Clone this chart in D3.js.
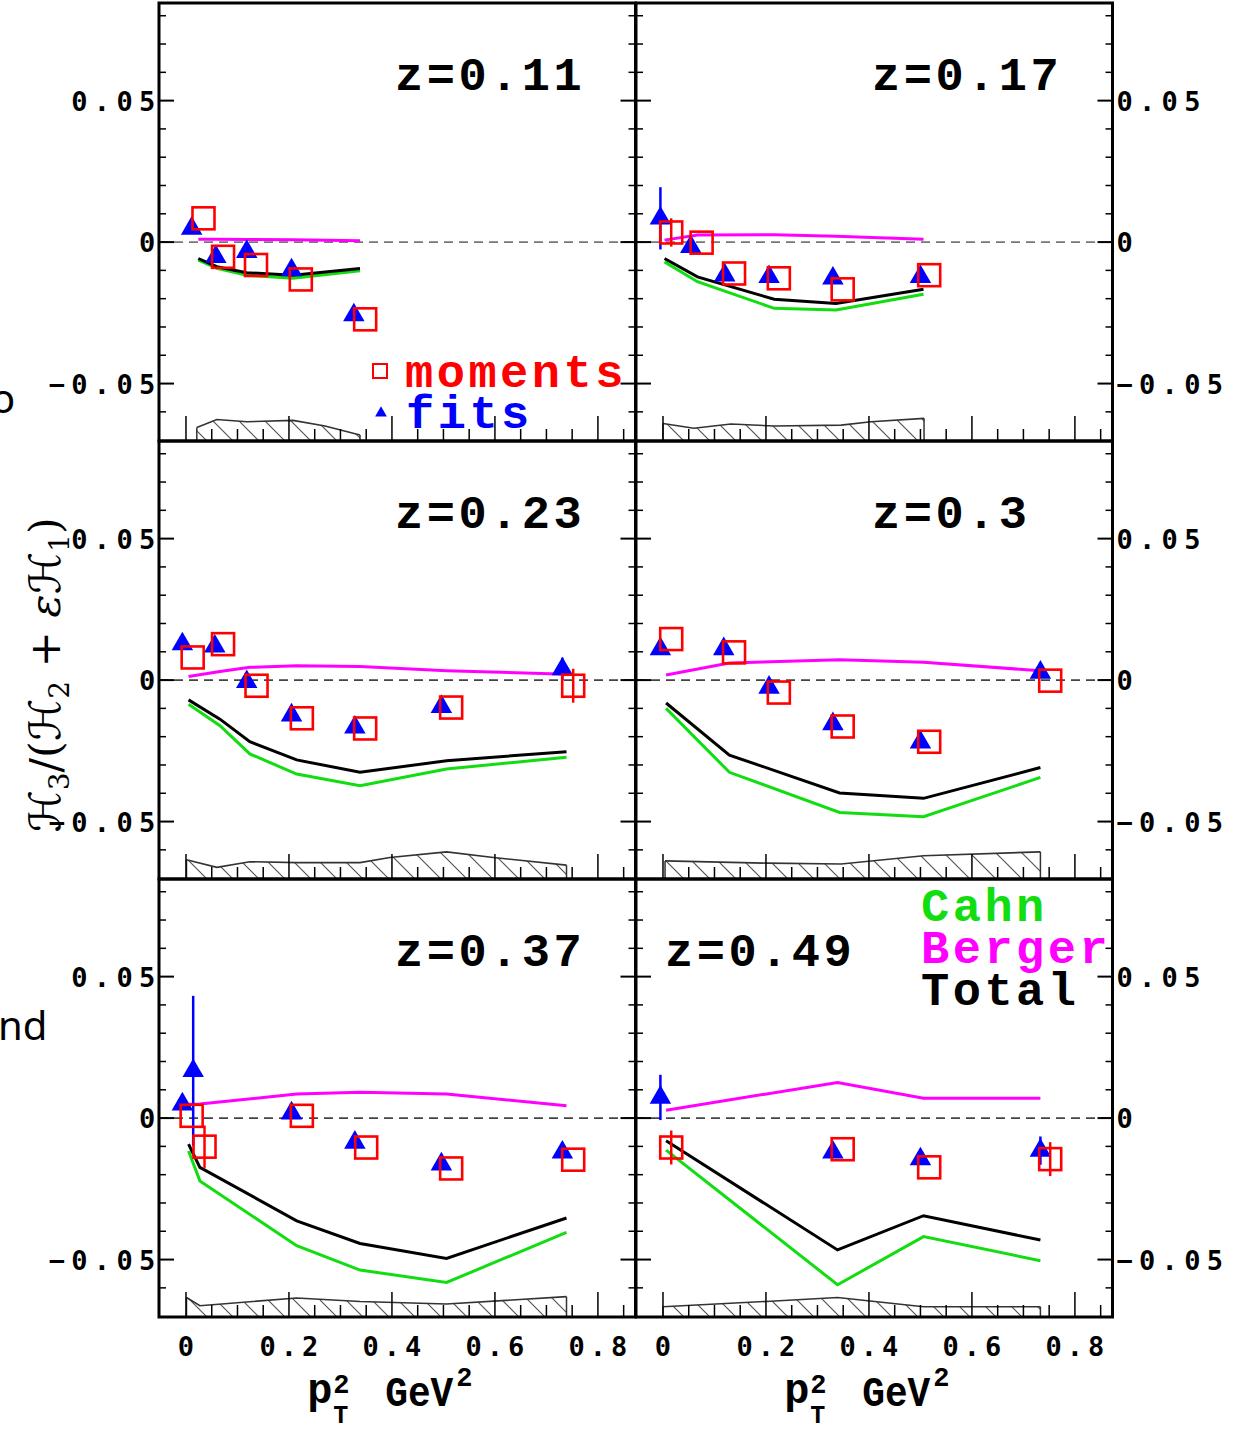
<!DOCTYPE html>
<html>
<head>
<meta charset="utf-8">
<script src="https://cdn.jsdelivr.net/npm/d3@7"></script>
<style>
  html, body { margin: 0; padding: 0; background: #ffffff; overflow: hidden; }
  svg { display: block; }
</style>
</head>
<body>
<script>
// ---------------- DATA ----------------
const zLabels = ["z=0.11", "z=0.17", "z=0.23", "z=0.3", "z=0.37", "z=0.49"];
const yTickValues = [0.05, 0, -0.05];
const yTickLabels = ["0.05", "0", "\u22120.05"];
const xTickValues = [0, 0.2, 0.4, 0.6, 0.8];
const xTickLabels = ["0", "0.2", "0.4", "0.6", "0.8"];
const legendData = ["moments", "fits"];
const modelNames = ["Cahn", "Berger", "Total"];

// z = 0.11
const fitX_a = [0.011, 0.058, 0.118, 0.205, 0.326];
const fitY_a = [0.0048, -0.0052, -0.0034, -0.0099, -0.0258];
const fitE_a = [0, 0, 0, 0, 0];
const momX_a = [0.034, 0.072, 0.136, 0.223, 0.348];
const momY_a = [0.0084, -0.0052, -0.0081, -0.0132, -0.0273];
const momE_a = [0, 0, 0, 0, 0];
const modX_a = [0.024, 0.06, 0.118, 0.208, 0.338];
const cahn_a = [-0.0064, -0.0093, -0.0117, -0.0128, -0.0101];
const berger_a = [0.001, 0.001, 0.0009, 0.0008, 0.0005];
const total_a = [-0.0058, -0.0087, -0.0108, -0.0117, -0.0093];
const sysX_a = [0.021, 0.06, 0.118, 0.208, 0.27, 0.338];
const sys_a = [-0.0655, -0.0627, -0.0635, -0.063, -0.065, -0.0682];

// z = 0.17
const fitX_b = [-0.005, 0.054, 0.120, 0.206, 0.330, 0.500];
const fitY_b = [0.0084, -0.0017, -0.0117, -0.0123, -0.0128, -0.0123];
const fitE_b = [0.011, 0, 0, 0, 0, 0];
const momX_b = [0.016, 0.075, 0.138, 0.225, 0.349, 0.517];
const momY_b = [0.0034, -0.0002, -0.0111, -0.0128, -0.0167, -0.0117];
const momE_b = [0.005, 0, 0, 0, 0, 0];
const modX_b = [0.003, 0.067, 0.216, 0.336, 0.506];
const cahn_b = [-0.007, -0.014, -0.0234, -0.024, -0.0184];
const berger_b = [0.0007, 0.0025, 0.0026, 0.0021, 0.001];
const total_b = [-0.0058, -0.0123, -0.0202, -0.0217, -0.0167];
const sysX_b = [0.0, 0.06, 0.132, 0.216, 0.346, 0.404, 0.507];
const sys_b = [-0.0641, -0.0658, -0.0643, -0.065, -0.0647, -0.0635, -0.0623];

// z = 0.23
const fitX_c = [-0.007, 0.056, 0.118, 0.205, 0.328, 0.496, 0.731];
const fitY_c = [0.0127, 0.0119, -0.0006, -0.0124, -0.0167, -0.0094, 0.0039];
const fitE_c = [0, 0, 0, 0, 0, 0, 0.004];
const momX_c = [0.013, 0.072, 0.137, 0.225, 0.348, 0.515, 0.752];
const momY_c = [0.008, 0.0127, -0.002, -0.0135, -0.0171, -0.0097, -0.002];
const momE_c = [0, 0, 0, 0, 0, 0, 0.006];
const modX_c = [0.005, 0.066, 0.124, 0.215, 0.338, 0.506, 0.739];
const cahn_c = [-0.0085, -0.0161, -0.0261, -0.0332, -0.0373, -0.0314, -0.0273];
const berger_c = [0.0013, 0.003, 0.0045, 0.0051, 0.0048, 0.0033, 0.0021];
const total_c = [-0.007, -0.0138, -0.0218, -0.0282, -0.0326, -0.0285, -0.0253];
const sysX_c = [0.001, 0.06, 0.124, 0.215, 0.338, 0.396, 0.506, 0.597, 0.739];
const sys_c = [-0.0635, -0.0662, -0.0642, -0.0645, -0.0645, -0.0627, -0.0607, -0.0627, -0.0654];

// z = 0.3
const fitX_d = [-0.005, 0.118, 0.206, 0.330, 0.500, 0.733];
const fitY_d = [0.011, 0.011, -0.0026, -0.0155, -0.022, 0.0027];
const fitE_d = [0, 0, 0, 0, 0, 0];
const momX_d = [0.016, 0.138, 0.225, 0.349, 0.517, 0.752];
const momY_d = [0.0145, 0.0098, -0.0044, -0.0164, -0.0218, -0.0002];
const momE_d = [0, 0, 0, 0, 0, 0];
const modX_d = [0.006, 0.129, 0.343, 0.506, 0.733];
const cahn_d = [-0.01, -0.0326, -0.0468, -0.0483, -0.0344];
const berger_d = [0.0018, 0.006, 0.0072, 0.0063, 0.0033];
const total_d = [-0.0081, -0.0265, -0.0399, -0.0418, -0.0309];
const sysX_d = [0.004, 0.203, 0.346, 0.506, 0.733];
const sys_d = [-0.0639, -0.0647, -0.065, -0.0621, -0.0607];

// z = 0.37
const fitX_e = [-0.007, 0.014, 0.205, 0.328, 0.496, 0.731];
const fitY_e = [0.0049, 0.0167, 0.0017, -0.0086, -0.0163, -0.0121];
const fitE_e = [0, 0.0265, 0, 0, 0, 0];
const momX_e = [0.011, 0.036, 0.225, 0.350, 0.515, 0.752];
const momY_e = [0.0008, -0.0101, 0.0008, -0.0104, -0.0178, -0.0147];
const momE_e = [0, 0.0075, 0, 0, 0, 0];
const modX_e = [0.005, 0.027, 0.215, 0.338, 0.506, 0.739];
const cahn_e = [-0.0116, -0.0222, -0.0451, -0.0537, -0.0581, -0.0404];
const berger_e = [0.0049, 0.005, 0.0085, 0.0091, 0.0085, 0.0044];
const total_e = [-0.0092, -0.0174, -0.0363, -0.0443, -0.0496, -0.0353];
const sysX_e = [0.001, 0.027, 0.215, 0.338, 0.506, 0.739];
const sys_e = [-0.0634, -0.0663, -0.0636, -0.0648, -0.0657, -0.0631];

// z = 0.49
const fitX_f = [-0.005, 0.330, 0.500, 0.733];
const fitY_f = [0.0073, -0.0121, -0.0145, -0.0115];
const fitE_f = [0.008, 0, 0, 0.005];
const momX_f = [0.016, 0.349, 0.517, 0.752];
const momY_f = [-0.0104, -0.011, -0.0174, -0.0145];
const momE_f = [0.006, 0, 0, 0.006];
const modX_f = [0.006, 0.339, 0.506, 0.733];
const cahn_f = [-0.0113, -0.0589, -0.0419, -0.0504];
const berger_f = [0.0028, 0.0126, 0.007, 0.007];
const total_f = [-0.008, -0.0466, -0.0345, -0.0431];
const sysX_f = [0.0, 0.2, 0.339, 0.506, 0.733];
const sys_f = [-0.0667, -0.0648, -0.0634, -0.0667, -0.0667];

// ---------------- BUILD ----------------
const panels = [
  {z: zLabels[0], fitX: fitX_a, fitY: fitY_a, fitE: fitE_a, momX: momX_a, momY: momY_a, momE: momE_a, modX: modX_a, cahn: cahn_a, berger: berger_a, total: total_a, sysX: sysX_a, sys: sys_a},
  {z: zLabels[1], fitX: fitX_b, fitY: fitY_b, fitE: fitE_b, momX: momX_b, momY: momY_b, momE: momE_b, modX: modX_b, cahn: cahn_b, berger: berger_b, total: total_b, sysX: sysX_b, sys: sys_b},
  {z: zLabels[2], fitX: fitX_c, fitY: fitY_c, fitE: fitE_c, momX: momX_c, momY: momY_c, momE: momE_c, modX: modX_c, cahn: cahn_c, berger: berger_c, total: total_c, sysX: sysX_c, sys: sys_c},
  {z: zLabels[3], fitX: fitX_d, fitY: fitY_d, fitE: fitE_d, momX: momX_d, momY: momY_d, momE: momE_d, modX: modX_d, cahn: cahn_d, berger: berger_d, total: total_d, sysX: sysX_d, sys: sys_d},
  {z: zLabels[4], fitX: fitX_e, fitY: fitY_e, fitE: fitE_e, momX: momX_e, momY: momY_e, momE: momE_e, modX: modX_e, cahn: cahn_e, berger: berger_e, total: total_e, sysX: sysX_e, sys: sys_e},
  {z: zLabels[5], fitX: fitX_f, fitY: fitY_f, fitE: fitE_f, momX: momX_f, momY: momY_f, momE: momE_f, modX: modX_f, cahn: cahn_f, berger: berger_f, total: total_f, sysX: sysX_f, sys: sys_f}
];

const W = 1236, H = 1432;
const colX = [159, 636];
const rowY = [3, 441, 879];
const pw = 476.5, ph = 438;

const x = d3.scaleLinear().domain([-0.0524, 0.873]).range([0, pw]);
const y = d3.scaleLinear().domain([-0.0703, 0.0845]).range([ph, 0]);

const RED = "#ff0000", BLUE = "#0000ff", GREEN = "#11dd11", MAG = "#ff00ff";
const MONO = "'Liberation Mono', 'Courier New', monospace";
const TICKF = "'DejaVu Sans Mono', monospace";

const svg = d3.select("body").append("svg").attr("width", W).attr("height", H);

// hatch pattern
const defs = svg.append("defs");
const pat = defs.append("pattern").attr("id", "hatch")
  .attr("patternUnits", "userSpaceOnUse").attr("width", 26).attr("height", 26);
pat.append("path").attr("d", "M0,0 L26,26 M-13,13 L13,39 M13,-13 L39,13")
  .attr("stroke", "#555").attr("stroke-width", 1.2).attr("fill", "none");

const lineGen = d3.line().x(d => x(d[0])).y(d => y(d[1]));
const bigText = (sel) => sel.style("font-family", MONO).style("font-weight", "bold")
  .style("font-size", "47px").style("letter-spacing", "3.5px");

panels.forEach((p, i) => {
  const col = i % 2, row = Math.floor(i / 2);
  const g = svg.append("g").attr("transform", `translate(${colX[col]},${rowY[row]})`);

  // zero dashed line
  g.append("line").attr("x1", 0).attr("x2", pw).attr("y1", y(0)).attr("y2", y(0))
    .attr("stroke", row === 0 ? "#777" : "#444").attr("stroke-width", 1.6).attr("stroke-dasharray", "9,6");

  // systematic band
  const band = p.sysX.map((v, k) => [v, p.sys[k]]);
  const area = d3.area().x(d => x(d[0])).y0(y(-0.0703)).y1(d => y(d[1]));
  g.append("path").attr("d", area(band)).attr("fill", "url(#hatch)").attr("stroke", "none");
  g.append("path").attr("d", lineGen(band)).attr("fill", "none").attr("stroke", "#333").attr("stroke-width", 1.6);
  g.append("line").attr("x1", x(p.sysX[0])).attr("x2", x(p.sysX[0]))
    .attr("y1", y(p.sys[0])).attr("y2", ph).attr("stroke", "#333").attr("stroke-width", 1.5);
  const last = p.sysX.length - 1;
  g.append("line").attr("x1", x(p.sysX[last])).attr("x2", x(p.sysX[last]))
    .attr("y1", y(p.sys[last])).attr("y2", ph).attr("stroke", "#333").attr("stroke-width", 1.5);

  // ticks: y
  d3.range(-6, 9).forEach(k => {
    const v = k / 100, major = (k % 5 === 0);
    const L = major ? 15 : 7;
    g.append("line").attr("x1", 0).attr("x2", L).attr("y1", y(v)).attr("y2", y(v))
      .attr("stroke", "#000").attr("stroke-width", major ? 2 : 1.5);
    g.append("line").attr("x1", pw).attr("x2", pw - L).attr("y1", y(v)).attr("y2", y(v))
      .attr("stroke", "#000").attr("stroke-width", major ? 2 : 1.5);
  });
  // ticks: x
  d3.range(0, 18).forEach(k => {
    const v = k * 0.05, major = (k % 4 === 0);
    const L = major ? 25 : 12;
    g.append("line").attr("x1", x(v)).attr("x2", x(v)).attr("y1", ph).attr("y2", ph - L)
      .attr("stroke", "#000").attr("stroke-width", 1.5);
  });

  // model curves
  const mk = arr => p.modX.map((v, k) => [v, arr[k]]);
  g.append("path").attr("d", lineGen(mk(p.cahn))).attr("fill", "none").attr("stroke", GREEN).attr("stroke-width", 3);
  g.append("path").attr("d", lineGen(mk(p.berger))).attr("fill", "none").attr("stroke", MAG).attr("stroke-width", 3);
  g.append("path").attr("d", lineGen(mk(p.total))).attr("fill", "none").attr("stroke", "#000").attr("stroke-width", 3);

  // fits: error bars + triangles
  p.fitX.forEach((v, k) => {
    if (p.fitE[k] > 0) {
      g.append("line").attr("x1", x(v)).attr("x2", x(v))
        .attr("y1", y(p.fitY[k] - p.fitE[k])).attr("y2", y(p.fitY[k] + p.fitE[k]))
        .attr("stroke", BLUE).attr("stroke-width", 2.5);
    }
  });
  g.selectAll(".tri").data(p.fitX).enter().append("path")
    .attr("d", d3.symbol().type(d3.symbolTriangle).size(200))
    .attr("transform", (v, k) => `translate(${x(v)},${y(p.fitY[k])})`)
    .attr("fill", BLUE);

  // moments: error bars + squares
  p.momX.forEach((v, k) => {
    if (p.momE[k] > 0) {
      g.append("line").attr("x1", x(v)).attr("x2", x(v))
        .attr("y1", y(p.momY[k] - p.momE[k])).attr("y2", y(p.momY[k] + p.momE[k]))
        .attr("stroke", RED).attr("stroke-width", 2.5);
    }
  });
  g.selectAll(".sq").data(p.momX).enter().append("rect")
    .attr("x", v => x(v) - 11).attr("y", (v, k) => y(p.momY[k]) - 11)
    .attr("width", 22).attr("height", 22)
    .attr("fill", "none").attr("stroke", RED).attr("stroke-width", 2.6);

  // frame
  g.append("rect").attr("x", 0).attr("y", 0).attr("width", pw).attr("height", ph)
    .attr("fill", "none").attr("stroke", "#000").attr("stroke-width", 3);

  // y tick labels
  yTickValues.forEach((v, k) => {
    const t = g.append("text").attr("y", y(v) + 10)
      .style("font-family", TICKF).style("font-weight", "bold").style("font-size", "27px")
      .style("letter-spacing", "6.3px").text(yTickLabels[k]);
    if (col === 0) t.attr("x", 2.5).attr("text-anchor", "end");
    else t.attr("x", pw + 4).attr("text-anchor", "start");
  });

  // x tick labels (bottom row)
  if (row === 2) {
    xTickValues.forEach((v, k) => {
      g.append("text").attr("x", x(v) + 2.5).attr("y", ph + 39).attr("text-anchor", "middle")
        .style("font-family", TICKF).style("font-weight", "bold").style("font-size", "27px")
        .style("letter-spacing", "5px").text(xTickLabels[k]);
    });
    // axis title
    const cx = pw / 2;
    const tf = (sel, s) => sel.style("font-family", MONO).style("font-weight", "bold").style("font-size", s);
    tf(g.append("text").attr("x", cx - 90).attr("y", ph + 86).text("p"), "42px");
    tf(g.append("text").attr("x", cx - 64).attr("y", ph + 106).text("T"), "25px");
    tf(g.append("text").attr("x", cx - 64).attr("y", ph + 76).text("2"), "27px");
    tf(g.append("text").attr("x", cx - 12).attr("y", ph + 89).attr("textLength", 68)
      .attr("lengthAdjust", "spacingAndGlyphs").text("GeV"), "42px");
    tf(g.append("text").attr("x", cx + 59).attr("y", ph + 69).text("2"), "27px");
  }

  // panel label
  bigText(g.append("text").attr("x", i === 5 ? 29 : 236).attr("y", 87).attr("fill", "#000").text(p.z));
});

// legend: moments / fits (top-left panel)
const lg = svg.append("g").attr("transform", `translate(${colX[0]},${rowY[0]})`);
lg.append("rect").attr("x", 214).attr("y", 361).attr("width", 14).attr("height", 14)
  .attr("fill", "none").attr("stroke", RED).attr("stroke-width", 2);
lg.append("path").attr("d", d3.symbol().type(d3.symbolTriangle).size(60))
  .attr("transform", "translate(222,410)").attr("fill", BLUE);
bigText(lg.append("text").attr("x", 246).attr("y", 384).attr("fill", RED).text(legendData[0]));
bigText(lg.append("text").attr("x", 247).attr("y", 425).attr("fill", BLUE).text(legendData[1]));

// legend: models (bottom-right panel)
const mg = svg.append("g").attr("transform", `translate(${colX[1]},${rowY[2]})`);
const mcol = [GREEN, MAG, "#000"];
modelNames.forEach((n, k) => {
  bigText(mg.append("text").attr("x", 285).attr("y", 42 + k * 42).attr("fill", mcol[k]).text(n));
});

// y-axis title
const yt = svg.append("text").attr("transform", "translate(60,675) rotate(-90)")
  .attr("text-anchor", "middle")
  .style("font-family", "'DejaVu Serif', 'DejaVu Sans', serif").style("font-size", "43px");
const parts = [["\u210B", 0], ["3", 1], ["/(", 0], ["\u210B", 0], ["2", 1], [" + ", 0], ["\u03B5", 2], ["\u210B", 0], ["1", 1], [")", 0]];
let prevSub = false;
parts.forEach(([t, kind]) => {
  const ts = yt.append("tspan").text(t);
  if (kind === 1) { ts.attr("dy", 9).style("font-size", "28px"); prevSub = true; }
  else {
    if (prevSub) ts.attr("dy", -9);
    prevSub = false;
    if (kind === 2) ts.style("font-style", "italic");
  }
});

// stray text fragments at the left edge
svg.append("text").attr("x", -9).attr("y", 413).style("font-family", "'Noto Sans', sans-serif")
  .style("font-size", "40px").text("o");
svg.append("text").attr("x", -2).attr("y", 1040).style("font-family", "'Noto Sans', sans-serif")
  .style("font-size", "40px").text("nd");
</script>
</body>
</html>
